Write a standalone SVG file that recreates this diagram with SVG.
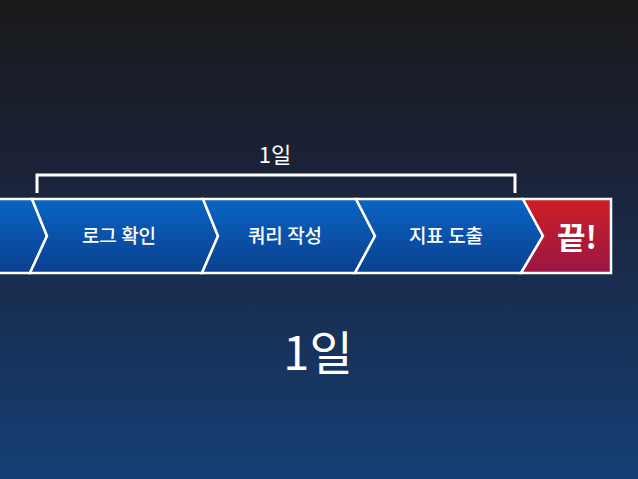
<svg xmlns="http://www.w3.org/2000/svg" width="638" height="479" viewBox="0 0 638 479">
<defs>
<linearGradient id="bg" x1="0" y1="0" x2="0" y2="479" gradientUnits="userSpaceOnUse">
<stop offset="0" stop-color="#1a1a1b"/>
<stop offset="0.35" stop-color="#1b2238"/>
<stop offset="1" stop-color="#143f75"/>
</linearGradient>
<linearGradient id="blue" x1="0" y1="199" x2="0" y2="273" gradientUnits="userSpaceOnUse">
<stop offset="0" stop-color="#0964c4"/>
<stop offset="1" stop-color="#0b3f8e"/>
</linearGradient>
<linearGradient id="red" x1="0" y1="199" x2="0" y2="273" gradientUnits="userSpaceOnUse">
<stop offset="0" stop-color="#cf1e27"/>
<stop offset="1" stop-color="#981744"/>
</linearGradient>
<style>
.seg{stroke:#ffffff;stroke-width:2.5;stroke-linejoin:miter}
.lbl{font-family:"Noto Sans CJK KR","Noto Sans",sans-serif;font-weight:500;fill:#ffffff;text-anchor:middle}
.big{font-weight:700}
.thin{font-weight:400}
</style>
</defs>
<rect x="0" y="0" width="638" height="479" fill="url(#bg)"/>
<g id="connectors">
<path d="M37,193 V175 H515 V193" fill="none" stroke="#ffffff" stroke-width="3"/>
</g>
<g id="top-label"><text class="lbl thin" x="275" y="163" font-size="22">1일</text></g>
<g id="seg0"><polygon class="seg" fill="url(#blue)" points="-5,199 32,199 47,236 30,273 -5,273"/></g>
<g id="seg1"><polygon class="seg" fill="url(#blue)" points="32,199 203,199 218,236 202,273 30,273 47,236"/>
<text class="lbl" x="119" y="243" font-size="19">로그 확인</text></g>
<g id="seg2"><polygon class="seg" fill="url(#blue)" points="203,199 356,199 375,236 355,273 202,273 218,236"/>
<text class="lbl" x="285" y="243" font-size="19">쿼리 작성</text></g>
<g id="seg3"><polygon class="seg" fill="url(#blue)" points="356,199 523,199 543,236 521,273 355,273 375,236"/>
<text class="lbl" x="446" y="243" font-size="19">지표 도출</text></g>
<g id="end"><polygon class="seg" fill="url(#red)" points="523,199 611,199 611,273 521,273 543,236"/>
<text class="lbl big" x="577" y="249" font-size="31">끝!</text></g>
<g id="bottom-label"><text class="lbl thin" x="318" y="370" font-size="47">1일</text></g>
</svg>
